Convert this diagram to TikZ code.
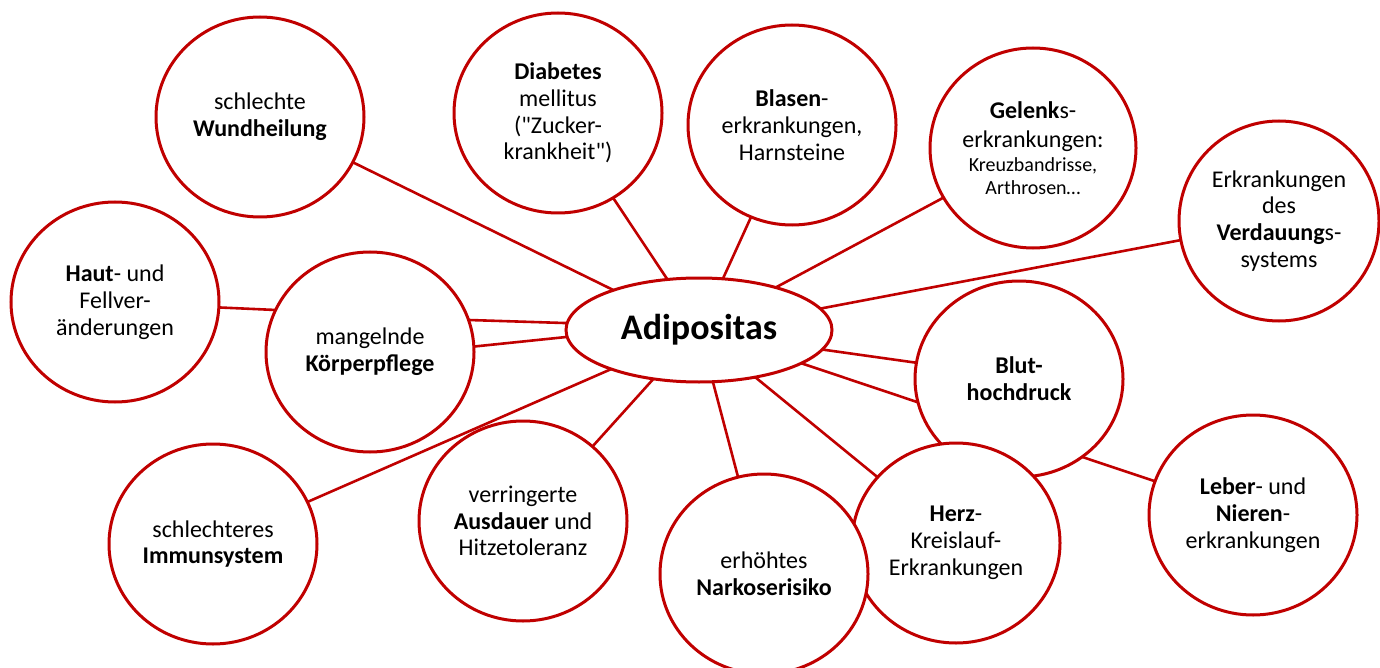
\documentclass[tikz,border=0pt]{standalone}
\usepackage{fontspec}
\setmainfont{Carlito}[Ligatures=TeXOff]
\usetikzlibrary{shapes.geometric}
\definecolor{rim}{RGB}{192,0,0}
\begin{document}
\begin{tikzpicture}[x=0.5pt,y=-0.5pt,
  bub/.style={ellipse, draw=rim, line width=1.5pt, fill=white,
    minimum width=104pt, minimum height=100pt, inner sep=0pt, outer sep=0pt,
    align=center, font=\fontsize{12}{13.4}\selectfont},
  link/.style={draw=rim, line width=1.3pt}]
\useasboundingbox (0,0) rectangle (1380,668);

\node[bub, minimum width=133pt, minimum height=52pt, font=\fontsize{18}{20}\selectfont\bfseries] (adi) at (699,330) {Adipositas};
\node[bub] (wund) at (260,117) {schlechte\\\textbf{Wundheilung}};
\node[bub] (diab) at (558,113) {\textbf{Diabetes}\\mellitus\\("Zucker-\\krankheit")};
\node[bub] (blas) at (792,125) {\textbf{Blasen}-\\erkrankungen,\\Harnsteine};
\node[bub, minimum width=103pt] (gel) at (1033,148) {\textbf{Gelenk}s-\\[1pt]erkrankungen:\\[-1.5pt]{\fontsize{10}{11.3}\selectfont Kreuzbandrisse,}\\[-2pt]{\fontsize{10}{11.3}\selectfont Arthrosen…}};
\node[bub, minimum width=100pt] (verd) at (1279,221) {Erkrankungen\\des\\\textbf{Verdauung}s-\\systems};
\node[bub] (haut) at (115,302) {\textbf{Haut}- und\\Fellver-\\änderungen};
\node[bub] (koerp) at (370,352) {mangelnde\\\textbf{Körperpflege}};
\node[bub] (immun) at (213,544) {schlechteres\\\textbf{Immunsystem}};
\node[bub] (ausd) at (523,521) {verringerte\\\textbf{Ausdauer} und\\Hitzetoleranz};
\node[bub] (leber) at (1253,515) {\textbf{Leber}- und\\\textbf{Nieren}-\\erkrankungen};
\node[bub, minimum height=98pt] (blut) at (1019,379) {\textbf{Blut-}\\\textbf{hochdruck}};
\node[bub] (herz) at (956,543) {\textbf{Herz}-\\Kreislauf-\\Erkrankungen};
\node[bub] (nark) at (764,574) {erhöhtes\\\textbf{Narkoserisiko}};

\draw[link] (adi.155) -- (wund.-26);
\draw[link] (adi.122) -- (diab.-57);
\draw[link] (adi.65) -- (blas.246);
\draw[link] (adi.29) -- (gel.209);
\draw[link] (adi.10) -- (verd.191);
\draw[link] (haut.-3) -- (koerp.156);
\draw[link] (koerp.18) -- (adi.177.4);
\draw[link] (koerp.3.3) -- (adi.183);
\draw[link] (immun.24) -- (adi.204);
\draw[link] (ausd.47.4) -- (adi.227.4);
\draw[link] (nark.105.6) -- (adi.-75);
\draw[link] (herz.140) -- (adi.-40);
\draw[link] (blut.171.8) -- (adi.-9.2);
\draw[link] (blut.193.2) -- (adi.-18.1);
\draw[link] (blut.-51.3) -- (leber.161.6);
\end{tikzpicture}
\end{document}
